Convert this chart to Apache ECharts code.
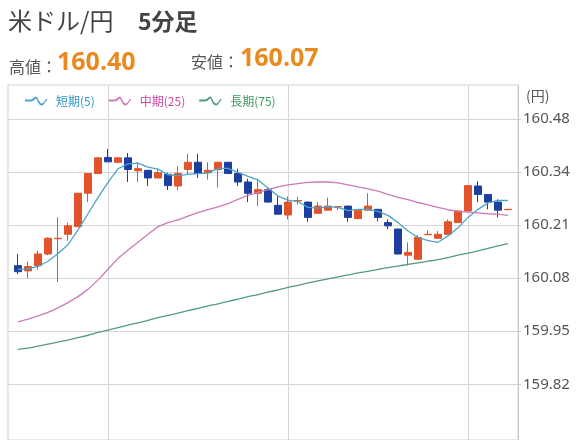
<!DOCTYPE html>
<html><head><meta charset="utf-8">
<script src="https://cdn.jsdelivr.net/npm/echarts@6/dist/echarts.min.js"></script>
<style>html,body{margin:0;padding:0;background:#fff}#c{width:576px;height:440px}</style>
</head><body><div id="c"></div>
<script>
// ---- data ----
const categories = Array.from({length: 50}, (_, i) => String(i + 1));
// [open, close, low, high]
const candles = [
  [160.115,160.100,160.094,160.144],[160.102,160.113,160.084,160.125],[160.115,160.144,160.105,160.152],
  [160.144,160.183,160.141,160.186],[160.182,160.183,160.074,160.235],[160.193,160.214,160.177,160.222],
  [160.212,160.295,160.212,160.296],[160.295,160.344,160.273,160.345],[160.344,160.383,160.344,160.384],
  [160.384,160.373,160.373,160.405],[160.372,160.383,160.372,160.384],[160.383,160.354,160.323,160.395],
  [160.351,160.356,160.323,160.372],[160.352,160.333,160.313,160.353],[160.333,160.346,160.333,160.356],
  [160.342,160.314,160.303,160.346],[160.313,160.344,160.303,160.362],[160.354,160.372,160.342,160.393],
  [160.372,160.344,160.333,160.393],[160.346,160.352,160.329,160.372],[160.354,160.372,160.309,160.373],
  [160.372,160.344,160.343,160.373],[160.344,160.323,160.313,160.356],[160.323,160.295,160.273,160.331],
  [160.295,160.304,160.263,160.331],[160.304,160.273,160.272,160.309],[160.265,160.243,160.242,160.288],
  [160.241,160.273,160.230,160.287],[160.276,160.277,160.267,160.286],[160.273,160.235,160.224,160.274],
  [160.245,160.263,160.244,160.273],[160.253,160.263,160.252,160.284],[160.261,160.262,160.253,160.263],
  [160.263,160.235,160.224,160.264],[160.232,160.253,160.231,160.254],[160.253,160.263,160.252,160.295],
  [160.255,160.235,160.225,160.256],[160.222,160.214,160.206,160.230],[160.206,160.144,160.143,160.207],
  [160.141,160.148,160.115,160.173],[160.131,160.185,160.130,160.191],[160.192,160.193,160.192,160.203],
  [160.183,160.193,160.182,160.201],[160.193,160.224,160.192,160.230],[160.222,160.251,160.221,160.252],
  [160.251,160.314,160.250,160.315],[160.313,160.292,160.273,160.325],[160.292,160.273,160.255,160.293],
  [160.273,160.253,160.235,160.280],[160.254,160.255,160.254,160.255]
];
const ma5 = [160.106,160.107,160.113,160.126,160.145,160.167,160.204,160.244,160.284,160.322,
  160.356,160.368,160.370,160.360,160.355,160.341,160.339,160.342,160.344,160.345,
  160.357,160.357,160.347,160.337,160.328,160.308,160.288,160.278,160.274,160.260,
  160.258,160.262,160.260,160.252,160.255,160.255,160.250,160.240,160.222,160.201,
  160.185,160.177,160.173,160.189,160.209,160.235,160.255,160.271,160.277,160.277];
const ma25 = [159.975,159.982,159.990,159.999,160.010,160.023,160.038,160.056,160.079,160.106,
  160.133,160.154,160.173,160.193,160.212,160.222,160.229,160.238,160.247,160.254,
  160.261,160.269,160.280,160.290,160.297,160.304,160.311,160.316,160.319,160.322,
  160.323,160.323,160.321,160.316,160.311,160.306,160.300,160.292,160.285,160.279,
  160.272,160.266,160.260,160.254,160.250,160.248,160.246,160.244,160.243,160.240];
const ma75 = [159.907,159.910,159.915,159.920,159.925,159.930,159.936,159.942,159.949,159.955,
  159.961,159.967,159.973,159.979,159.986,159.991,159.997,160.003,160.009,160.015,
  160.020,160.026,160.032,160.038,160.043,160.049,160.055,160.061,160.066,160.072,
  160.077,160.082,160.087,160.092,160.097,160.101,160.106,160.110,160.114,160.118,
  160.122,160.126,160.130,160.135,160.141,160.146,160.152,160.158,160.164,160.170];
const yTicks = [159.82, 159.952, 160.084, 160.216, 160.348, 160.48];
const vGridCandles = [9, 27, 45];
const seriesNames = ['短期(5)', '中期(25)', '長期(75)'];
const highLow = ['160.40', '160.07'];

// ---- chart ----
const FONT = '"Noto Sans CJK JP", "Noto Sans", sans-serif';
const pad = a => ['-'].concat(a, ['-']);
const xCats = [''].concat(categories, ['']);
const lineColors = ['#4ba4c9', '#c97cb8', '#559c7a'];
const textColors = ['#2f97c6', '#d0469f', '#3c9a5e'];
const wave = 'path://M0,6 L6,6 C8,6 9,3 11,3 C13,3 14,10 17,10 C19,10 20,6 22,5 L22,7 C20,8 19,12 17,12 C13,12 12,5 11,5 C10,5 9,8 6,8 L0,8 Z';

const chart = echarts.init(document.getElementById('c'), null, {renderer: 'canvas'});
chart.setOption({
  animation: false,
  backgroundColor: '#fff',
  textStyle: {fontFamily: FONT},
  graphic: [
    {type: 'text', left: 8, top: 9, style: {text: '米ドル/円', font: '24px ' + FONT, fill: '#444'}},
    {type: 'text', left: 138, top: 10, style: {text: '5分足', font: 'bold 23px ' + FONT, fill: '#444'}},
    {type: 'text', left: 9, top: 59, style: {text: '高値：', font: '16px ' + FONT, fill: '#555'}},
    {type: 'text', left: 57, top: 50, style: {text: highLow[0], font: 'bold 25px "Open Sans", ' + FONT, fill: '#ea8a1e'}},
    {type: 'text', left: 191, top: 54, style: {text: '安値：', font: '16px ' + FONT, fill: '#555'}},
    {type: 'text', left: 240, top: 46, style: {text: highLow[1], font: 'bold 25px "Open Sans", ' + FONT, fill: '#ea8a1e'}},
    {type: 'text', left: 526, top: 89, style: {text: '(円)', font: '14px ' + FONT, fill: '#555'}}
  ],
  legend: {
    left: 20, top: 90, itemWidth: 22, itemHeight: 9, itemGap: 14,
    icon: wave,
    data: seriesNames.map((n, i) => ({name: n, textStyle: {color: textColors[i]}})),
    textStyle: {fontSize: 12, fontFamily: FONT, padding: [0, 0, 0, 4]}
  },
  grid: {left: 8, right: 58, top: 85, bottom: -2, show: true, borderColor: '#d0d0d0', borderWidth: 1},
  xAxis: {
    type: 'category', data: xCats, boundaryGap: false,
    axisLine: {show: false}, axisTick: {show: false}, axisLabel: {show: false},
    splitLine: {show: true, interval: (idx) => vGridCandles.indexOf(idx - 1) >= 0, lineStyle: {color: '#d6d6d6', width: 1}}
  },
  yAxis: {
    type: 'value', position: 'right', scale: true,
    min: 159.6816, max: 160.5641,
    axisLine: {show: true, lineStyle: {color: '#c8c8c8'}},
    axisTick: {show: true, length: 3, customValues: yTicks, lineStyle: {color: '#c8c8c8'}},
    axisLabel: {show: true, customValues: yTicks, margin: 5, color: '#555', fontSize: 15, fontFamily: '"Noto Sans", sans-serif',
      formatter: v => (Math.floor(v * 100 + 1e-6) / 100).toFixed(2)},
    splitLine: {show: true, lineStyle: {color: '#d6d6d6', width: 1}}
  },
  series: [
    {type: 'candlestick', data: pad(candles), barWidth: 7,
      itemStyle: {color: '#e2532b', color0: '#1d3f9f', borderColor: '#e2532b', borderColor0: '#1d3f9f', borderWidth: 1}},
    {name: seriesNames[0], type: 'line', data: pad(ma5), symbol: 'none', color: lineColors[0], lineStyle: {width: 1.3, color: lineColors[0]}},
    {name: seriesNames[1], type: 'line', data: pad(ma25), symbol: 'none', color: lineColors[1], lineStyle: {width: 1.3, color: lineColors[1]}},
    {name: seriesNames[2], type: 'line', data: pad(ma75), symbol: 'none', color: lineColors[2], smooth: 0.3, lineStyle: {width: 1.3, color: lineColors[2]}}
  ]
});
</script>
</body></html>
